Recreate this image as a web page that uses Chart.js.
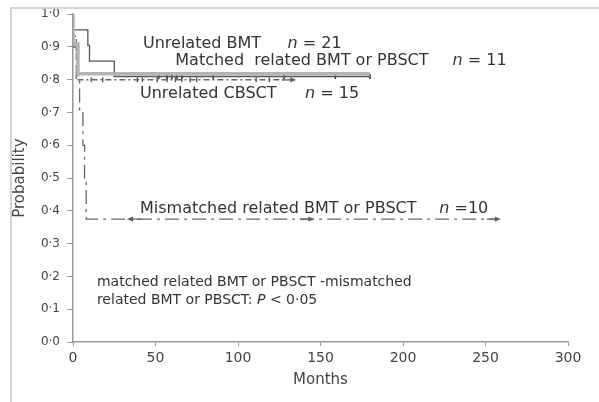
<!DOCTYPE html>
<html><head><meta charset="utf-8">
<script src="https://cdn.jsdelivr.net/npm/chart.js@4/dist/chart.umd.min.js"></script>
<style>
html,body{margin:0;padding:0;background:#fff;}
#wrap{position:relative;width:599px;height:402px;}
#frame{position:absolute;left:10px;top:7px;width:589px;height:395px;border-top:2px solid #d4d4d4;border-left:2px solid #d4d4d4;box-sizing:border-box;pointer-events:none;}
canvas{position:absolute;left:0;top:0;}
</style></head><body>
<div id="wrap"><canvas id="c" width="599" height="402"></canvas><div id="frame"></div></div>
<script>
// ---- Data (months, survival probability) ----
const unrelatedBmtMonths = [0, 9, 10, 25, 48, 180];
const unrelatedBmtProb   = [1.0, 0.952, 0.905, 0.857, 0.81, 0.81];
const matchedMonths = [0, 3, 33, 180];
const matchedProb   = [1.0, 0.909, 0.818, 0.818];
const cbsctMonths = [0, 2, 3, 4, 131];
const cbsctProb   = [1.0, 0.933, 0.867, 0.8, 0.8];
const mismatchedMonths = [0, 2, 4, 6, 7, 8, 14, 255];
const mismatchedProb   = [1.0, 0.9, 0.8, 0.7, 0.6, 0.5, 0.375, 0.375];

// censor marks
const bmtCensorMonths = [52, 57, 60, 63, 66, 85, 128, 159, 180];
const bmtCensorProb   = [0.81, 0.81, 0.81, 0.81, 0.81, 0.81, 0.81, 0.81, 0.81];
const cbsctCensorMonths = [11, 18, 39, 42, 51, 57, 62, 66, 71, 75, 111, 119];
const cbsctCensorProb   = [0.8, 0.8, 0.8, 0.8, 0.8, 0.8, 0.8, 0.8, 0.8, 0.8, 0.8, 0.8];
const mismatchedCensorMonths = [37, 142];
const mismatchedCensorProb   = [0.375, 0.375];
const endArrowMonths = [131, 255];
const endArrowProb   = [0.8, 0.375];

// axis ticks
const xTickValues = [0, 50, 100, 150, 200, 250, 300];
const yTickValues = [0, 0.1, 0.2, 0.3, 0.4, 0.5, 0.6, 0.7, 0.8, 0.9, 1.0];

// annotation labels: parts [text, italic]
const annLabels = [
  [["Unrelated BMT", false]],
  [["n", true], [" = 21", false]],
  [["Matched  related BMT or PBSCT", false]],
  [["n", true], [" = 11", false]],
  [["Unrelated CBSCT", false]],
  [["n", true], [" = 15", false]],
  [["Mismatched related BMT or PBSCT", false]],
  [["n", true], [" =10", false]],
  [["matched related BMT or PBSCT -mismatched", false]],
  [["related BMT or PBSCT: ", false], ["P", true], [" < 0·05", false]]
];
const annMonths = [42.4, 130, 62, 230, 40.6, 140.6, 40.6, 222, 14.5, 14.5];
const annProbs  = [0.910, 0.910, 0.857, 0.857, 0.757, 0.757, 0.407, 0.407, 0.182, 0.127];
const annSizes  = [16, 16, 16, 16, 16, 16, 16, 16, 14, 14];

const pts = (xs, ys) => xs.map((x, i) => ({x: x, y: ys[i]}));

function arrowImg(){
  const c = document.createElement('canvas');
  c.width = 14; c.height = 8;
  const g = c.getContext('2d');
  g.strokeStyle = '#555'; g.fillStyle = '#555'; g.lineWidth = 1.2;
  g.beginPath(); g.moveTo(0,4); g.lineTo(12,4); g.stroke();
  g.beginPath(); g.moveTo(14,4); g.lineTo(8,1.5); g.lineTo(8,6.5); g.closePath(); g.fill();
  return c;
}
const arrow = arrowImg();

const annPlugin = {
  id: 'ann',
  afterDatasetsDraw(chart){
    const ctx = chart.ctx, xs = chart.scales.x, ys = chart.scales.y;
    ctx.save();
    ctx.fillStyle = '#333';
    ctx.textBaseline = 'middle';
    ctx.textAlign = 'left';
    annLabels.forEach((parts, i) => {
      let x = xs.getPixelForValue(annMonths[i]);
      const y = ys.getPixelForValue(annProbs[i]);
      parts.forEach(([t, it]) => {
        ctx.font = (it ? 'italic ' : '') + annSizes[i] + 'px "DejaVu Sans"';
        ctx.fillText(t, x, y);
        x += ctx.measureText(t).width;
      });
    });
    ctx.restore();
  }
};

const tickFmt = v => Number(v).toFixed(1).replace('.', '·');

new Chart(document.getElementById('c'), {
  type: 'scatter',
  data: {
    datasets: [
      {label: 'Matched related BMT or PBSCT', data: pts(matchedMonths, matchedProb), showLine: true, stepped: 'after',
       borderColor: '#b4b4b4', borderWidth: 3.5, pointRadius: 0},
      {label: 'Unrelated BMT', data: pts(unrelatedBmtMonths, unrelatedBmtProb), showLine: true, stepped: 'after',
       borderColor: '#555', borderWidth: 1.3, pointRadius: 0},
      {label: 'Unrelated CBSCT', data: pts(cbsctMonths, cbsctProb), showLine: true, stepped: 'after',
       borderColor: '#666', borderWidth: 1.3, borderDash: [6, 3, 2, 3], pointRadius: 0},
      {label: 'Mismatched related BMT or PBSCT', data: pts(mismatchedMonths, mismatchedProb), showLine: true, stepped: 'after',
       borderColor: '#666', borderWidth: 1.3, borderDash: [14, 5, 3, 5], pointRadius: 0},
      {label: 'bmt censor', data: pts(bmtCensorMonths, bmtCensorProb), showLine: false,
       pointStyle: 'line', rotation: 90, pointRadius: 2.5, borderColor: '#333', borderWidth: 1.5},
      {label: 'cbsct censor', data: pts(cbsctCensorMonths, cbsctCensorProb), showLine: false,
       pointStyle: 'line', rotation: 90, pointRadius: 2.5, borderColor: '#444', borderWidth: 1.2},
      {label: 'mismatched censor', data: pts(mismatchedCensorMonths, mismatchedCensorProb), showLine: false,
       pointStyle: arrow, rotation: [180, 0]},
      {label: 'end arrows', data: pts(endArrowMonths, endArrowProb), showLine: false,
       pointStyle: arrow}
    ]
  },
  options: {
    responsive: false, animation: false, devicePixelRatio: 1,
    layout: {padding: {top: 13, right: 31, left: 0, bottom: 0}},
    plugins: {legend: {display: false}, tooltip: {enabled: false}},
    scales: {
      x: {
        type: 'linear', min: 0, max: 300,
        afterBuildTicks: s => { s.ticks = xTickValues.map(v => ({value: v})); },
        afterFit: s => { s.height = 60; },
        ticks: {font: {family: 'DejaVu Sans', size: 14}, color: '#444', padding: 4, maxRotation: 0},
        grid: {display: true, drawOnChartArea: false, drawTicks: true, tickLength: 4, color: '#999', lineWidth: 1},
        border: {display: true, color: '#999', width: 1.5},
        title: {display: true, text: 'Months', font: {family: 'DejaVu Sans', size: 15}, color: '#444', padding: {top: 0, bottom: 13}}
      },
      y: {
        type: 'linear', min: 0, max: 1,
        afterBuildTicks: s => { s.ticks = yTickValues.map(v => ({value: v})); },
        afterFit: s => { s.width = 73; },
        ticks: {font: {family: 'DejaVu Sans', size: 12}, color: '#444', padding: 7, callback: tickFmt},
        grid: {display: true, drawOnChartArea: false, drawTicks: true, tickLength: 6, color: '#999', lineWidth: 1},
        border: {display: true, color: '#999', width: 1.5},
        title: {display: true, text: 'Probability', font: {family: 'DejaVu Sans', size: 15}, color: '#444', padding: {top: 11, bottom: 0}}
      }
    }
  },
  plugins: [annPlugin]
});
</script>
</body></html>
